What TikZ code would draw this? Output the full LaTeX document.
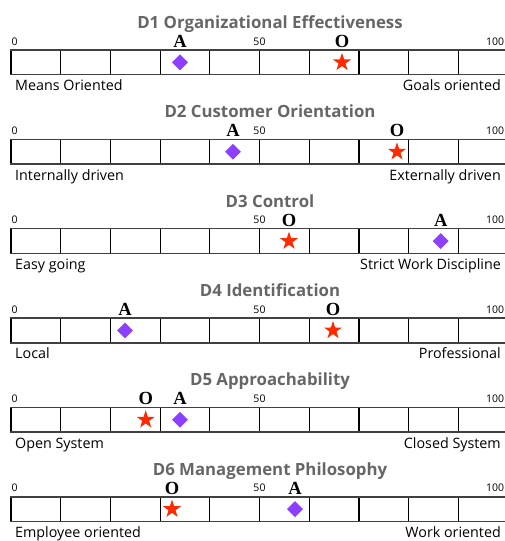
\documentclass[tikz,border=0pt]{standalone}
\usepackage{fontspec}
\setmainfont{Open Sans}
\newfontfamily\letterfont{Liberation Serif}
\usetikzlibrary{shapes.geometric}
\definecolor{titlegray}{HTML}{666666}
\definecolor{apurple}{HTML}{8C3FFF}
\definecolor{ored}{HTML}{FF2A00}
\begin{document}
\begin{tikzpicture}[x=1pt,y=-1pt,
  titlelab/.style={font=\fontsize{16.8}{18}\selectfont\bfseries, text=titlegray, anchor=base, inner sep=0},
  scalelab/.style={font=\fontsize{10.5}{11}\selectfont, inner sep=0},
  endlab/.style={font=\fontsize{14.3}{16}\selectfont, inner sep=0},
  letterlab/.style={font=\letterfont\bfseries\fontsize{18.5}{19}\selectfont, anchor=base, inner sep=0},
  amark/.style={diamond, fill=apurple, inner sep=0, minimum size=16pt},
  omark/.style={star, star points=5, star point ratio=2.6, fill=ored, inner sep=0, minimum size=19pt},
  hline/.style={line width=1.5pt, draw=black!75},
  vline/.style={line width=1.2pt, draw=black}]
\useasboundingbox (0,0) rectangle (505,541);
\foreach \i/\ti/\l/\r/\ax/\ox in {
  1/{D1 Organizational Effectiveness}/{Means Oriented}/{Goals oriented}/180/342,
  2/{D2 Customer Orientation}/{Internally driven}/{Externally driven}/233/397,
  3/{D3 Control}/{Easy going}/{Strict Work Discipline}/440.7/289,
  4/{D4 Identification}/{Local}/{Professional}/125/333,
  5/{D5 Approachability}/{Open System}/{Closed System}/180/145.7,
  6/{D6 Management Philosophy}/{Employee oriented}/{Work oriented}/295/172}
{
  \pgfmathsetmacro\yt{50+89.35*(\i-1)}
  \pgfmathsetmacro\yb{\yt+24.7}
  \pgfmathsetmacro\ym{\yt+12.4}
  \node[titlelab] (t\i) at (270,\yt-21.7) {\ti};
  \foreach \k in {0,...,10}{
    \draw[vline] (11+49.7*\k,\yt) -- (11+49.7*\k,\yb);
  }
  \draw[hline] (10,\yt) -- (510,\yt);
  \draw[hline] (10,\yb) -- (510,\yb);
  \node[scalelab, anchor=base west] (s0\i) at (11.5,\yt-5) {0};
  \node[scalelab, anchor=base] (s50\i) at (259.5,\yt-5) {50};
  \node[scalelab, anchor=base west] (s100\i) at (486,\yt-5) {100};
  \node[amark] (a\i) at (\ax,\ym) {};
  \node[omark] (o\i) at (\ox,\ym) {};
  \node[letterlab] (la\i) at (\ax,\yt-2.5) {A};
  \node[letterlab] (lo\i) at (\ox,\yt-2.5) {O};
  \node[endlab, anchor=base west] (l\i) at (15,\yt+40.7) {\l};
  \node[endlab, anchor=base east] (r\i) at (501,\yt+40.7) {\r};
}
\end{tikzpicture}
\end{document}
